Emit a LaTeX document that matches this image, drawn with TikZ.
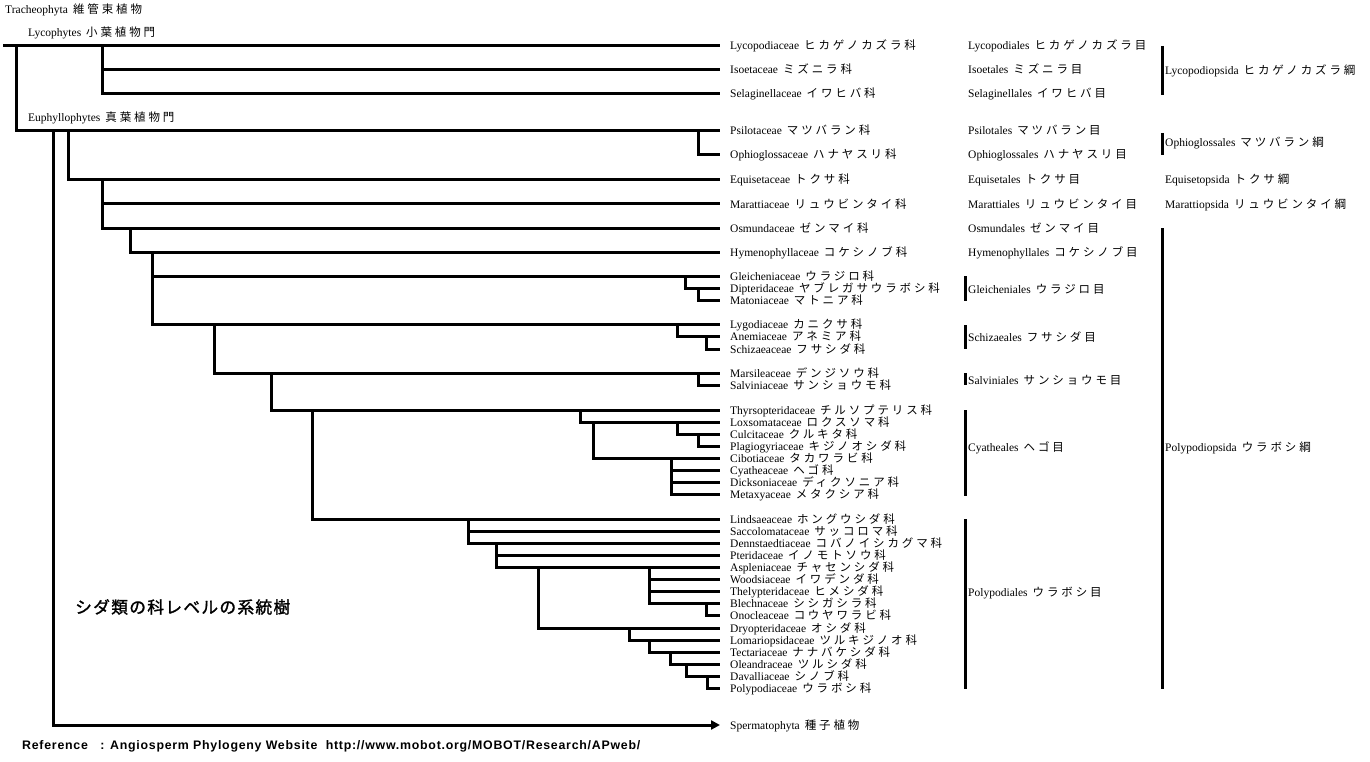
\documentclass[tikz,border=0pt]{standalone}
\usepackage{fontspec}
\usepackage{graphicx}
\setmainfont{Liberation Serif}
\newfontfamily\jp[LetterSpace=25]{Noto Sans CJK JP}
\newfontfamily\jptitle[FakeBold=1.5,LetterSpace=8]{Noto Sans CJK JP}
\newfontfamily\refsans[LetterSpace=6]{Liberation Sans}
\usetikzlibrary{arrows.meta}
\newcommand\lbl[2]{#1\hspace{5pt}{\fontsize{11.5}{12}\selectfont\jp #2}}
\begin{document}
\begin{tikzpicture}[x=1pt,y=-1pt,
  br/.style={line width=3pt, line join=miter},
  bar/.style={line width=3pt},
  txt/.style={inner sep=0pt, text height=9pt, text depth=1pt, font=\fontsize{11.5}{12}\selectfont},
  fam/.style={txt, anchor=west, inner xsep=10pt},
  lab/.style={txt, anchor=west}]
\useasboundingbox (0,0) rectangle (1370,762);
\fill[white] (0,0) rectangle (1370,762);

% headers
\node[lab] (trach) at (5,10) {\lbl{Tracheophyta}{維管束植物}};
\node[lab] (lyco) at (28,33) {\lbl{Lycophytes}{小葉植物門}};
\node[lab] (euph) at (28,118) {\lbl{Euphyllophytes}{真葉植物門}};

% families
\node[fam] (f1) at (720,46) {\lbl{Lycopodiaceae}{ヒカゲノカズラ科}};
\node[fam] (f2) at (720,70) {\lbl{Isoetaceae}{ミズニラ科}};
\node[fam] (f3) at (720,94) {\lbl{Selaginellaceae}{イワヒバ科}};
\node[fam] (f4) at (720,131) {\lbl{Psilotaceae}{マツバラン科}};
\node[fam] (f5) at (720,155) {\lbl{Ophioglossaceae}{ハナヤスリ科}};
\node[fam] (f6) at (720,180) {\lbl{Equisetaceae}{トクサ科}};
\node[fam] (f7) at (720,204) {\lbl{Marattiaceae}{リュウビンタイ科}};
\node[fam] (f8) at (720,228) {\lbl{Osmundaceae}{ゼンマイ科}};
\node[fam] (f9) at (720,252) {\lbl{Hymenophyllaceae}{コケシノブ科}};
\node[fam] (f10) at (720,276) {\lbl{Gleicheniaceae}{ウラジロ科}};
\node[fam] (f11) at (720,288) {\lbl{Dipteridaceae}{ヤブレガサウラボシ科}};
\node[fam] (f12) at (720,300) {\lbl{Matoniaceae}{マトニア科}};
\node[fam] (f13) at (720,324) {\lbl{Lygodiaceae}{カニクサ科}};
\node[fam] (f14) at (720,336) {\lbl{Anemiaceae}{アネミア科}};
\node[fam] (f15) at (720,349) {\lbl{Schizaeaceae}{フサシダ科}};
\node[fam] (f16) at (720,373) {\lbl{Marsileaceae}{デンジソウ科}};
\node[fam] (f17) at (720,385) {\lbl{Salviniaceae}{サンショウモ科}};
\node[fam] (f18) at (720,410) {\lbl{Thyrsopteridaceae}{チルソプテリス科}};
\node[fam] (f19) at (720,422) {\lbl{Loxsomataceae}{ロクスソマ科}};
\node[fam] (f20) at (720,434) {\lbl{Culcitaceae}{クルキタ科}};
\node[fam] (f21) at (720,446) {\lbl{Plagiogyriaceae}{キジノオシダ科}};
\node[fam] (f22) at (720,458) {\lbl{Cibotiaceae}{タカワラビ科}};
\node[fam] (f23) at (720,470) {\lbl{Cyatheaceae}{ヘゴ科}};
\node[fam] (f24) at (720,482) {\lbl{Dicksoniaceae}{ディクソニア科}};
\node[fam] (f25) at (720,494) {\lbl{Metaxyaceae}{メタクシア科}};
\node[fam] (f26) at (720,519) {\lbl{Lindsaeaceae}{ホングウシダ科}};
\node[fam] (f27) at (720,531) {\lbl{Saccolomataceae}{サッコロマ科}};
\node[fam] (f28) at (720,543) {\lbl{Dennstaedtiaceae}{コバノイシカグマ科}};
\node[fam] (f29) at (720,555) {\lbl{Pteridaceae}{イノモトソウ科}};
\node[fam] (f30) at (720,567) {\lbl{Aspleniaceae}{チャセンシダ科}};
\node[fam] (f31) at (720,579) {\lbl{Woodsiaceae}{イワデンダ科}};
\node[fam] (f32) at (720,591) {\lbl{Thelypteridaceae}{ヒメシダ科}};
\node[fam] (f33) at (720,603) {\lbl{Blechnaceae}{シシガシラ科}};
\node[fam] (f34) at (720,615) {\lbl{Onocleaceae}{コウヤワラビ科}};
\node[fam] (f35) at (720,628) {\lbl{Dryopteridaceae}{オシダ科}};
\node[fam] (f36) at (720,640) {\lbl{Lomariopsidaceae}{ツルキジノオ科}};
\node[fam] (f37) at (720,652) {\lbl{Tectariaceae}{ナナバケシダ科}};
\node[fam] (f38) at (720,664) {\lbl{Oleandraceae}{ツルシダ科}};
\node[fam] (f39) at (720,676) {\lbl{Davalliaceae}{シノブ科}};
\node[fam] (f40) at (720,688) {\lbl{Polypodiaceae}{ウラボシ科}};
\node[fam] (sp) at (720,725) {\lbl{Spermatophyta}{種子植物}};

% orders
\node[lab] (o1) at (968,46) {\lbl{Lycopodiales}{ヒカゲノカズラ目}};
\node[lab] (o2) at (968,70) {\lbl{Isoetales}{ミズニラ目}};
\node[lab] (o3) at (968,94) {\lbl{Selaginellales}{イワヒバ目}};
\node[lab] (o4) at (968,131) {\lbl{Psilotales}{マツバラン目}};
\node[lab] (o5) at (968,155) {\lbl{Ophioglossales}{ハナヤスリ目}};
\node[lab] (o6) at (968,180) {\lbl{Equisetales}{トクサ目}};
\node[lab] (o7) at (968,204) {\lbl{Marattiales}{リュウビンタイ目}};
\node[lab] (o8) at (968,228) {\lbl{Osmundales}{ゼンマイ目}};
\node[lab] (o9) at (968,252) {\lbl{Hymenophyllales}{コケシノブ目}};
\node[lab] (o10) at (968,289) {\lbl{Gleicheniales}{ウラジロ目}};
\node[lab] (o11) at (968,337) {\lbl{Schizaeales}{フサシダ目}};
\node[lab] (o12) at (968,380) {\lbl{Salviniales}{サンショウモ目}};
\node[lab] (o13) at (968,447) {\lbl{Cyatheales}{ヘゴ目}};
\node[lab] (o14) at (968,592) {\lbl{Polypodiales}{ウラボシ目}};

% classes
\node[lab] (k1) at (1165,71) {\lbl{Lycopodiopsida}{ヒカゲノカズラ綱}};
\node[lab] (k2) at (1165,143) {\lbl{Ophioglossales}{マツバラン綱}};
\node[lab] (k3) at (1165,180) {\lbl{Equisetopsida}{トクサ綱}};
\node[lab] (k4) at (1165,204) {\lbl{Marattiopsida}{リュウビンタイ綱}};
\node[lab] (k5) at (1165,447) {\lbl{Polypodiopsida}{ウラボシ綱}};

% order / class bars
\draw[bar] (965,276) -- (965,301);
\draw[bar] (965,325) -- (965,349);
\draw[bar] (965,373) -- (965,385);
\draw[bar] (965,410) -- (965,496);
\draw[bar] (965,519) -- (965,689);
\draw[bar] (1162,46) -- (1162,95);
\draw[bar] (1162,133) -- (1162,155);
\draw[bar] (1162,228) -- (1162,689);

% column coordinates
\foreach \x in {3,16,53,68,102,130,152,214,271,312,468,496,538,580,593,629,649,670,671,677,685,686,698,706,707}
  \coordinate (c\x) at (\x,0);

% tree
\draw[br] (c3 |- f1.west) -- (f1.west);
\draw[br] (c16 |- f1.west) |- (f4.west);
\draw[br] (c102 |- f1.west) |- (f3.west);
\draw[br] (c102 |- f2.west) -- (f2.west);
\draw[br] (c698 |- f4.west) |- (f5.west);
\draw[br,-{Triangle[length=9pt,width=9pt]}] (c53 |- f4.west) |- (sp.west);
\draw[br] (c68 |- f4.west) |- (f6.west);
\draw[br] (c102 |- f6.west) |- (f8.west);
\draw[br] (c102 |- f7.west) -- (f7.west);
\draw[br] (c130 |- f8.west) |- (f9.west);
\draw[br] (c152 |- f9.west) |- (f13.west);
\draw[br] (c152 |- f10.west) -- (f10.west);
\draw[br] (c685 |- f10.west) |- (f11.west);
\draw[br] (c698 |- f11.west) |- (f12.west);
\draw[br] (c214 |- f13.west) |- (f16.west);
\draw[br] (c677 |- f13.west) |- (f14.west);
\draw[br] (c706 |- f14.west) |- (f15.west);
\draw[br] (c698 |- f16.west) |- (f17.west);
\draw[br] (c271 |- f16.west) |- (f18.west);
\draw[br] (c312 |- f18.west) |- (f26.west);
\draw[br] (c580 |- f18.west) |- (f19.west);
\draw[br] (c593 |- f19.west) |- (f22.west);
\draw[br] (c677 |- f19.west) |- (f20.west);
\draw[br] (c698 |- f20.west) |- (f21.west);
\draw[br] (c671 |- f22.west) |- (f25.west);
\draw[br] (c671 |- f23.west) -- (f23.west);
\draw[br] (c671 |- f24.west) -- (f24.west);
\draw[br] (c468 |- f26.west) |- (f28.west);
\draw[br] (c468 |- f27.west) -- (f27.west);
\draw[br] (c496 |- f28.west) |- (f30.west);
\draw[br] (c496 |- f29.west) -- (f29.west);
\draw[br] (c538 |- f30.west) |- (f35.west);
\draw[br] (c649 |- f30.west) |- (f33.west);
\draw[br] (c649 |- f31.west) -- (f31.west);
\draw[br] (c649 |- f32.west) -- (f32.west);
\draw[br] (c706 |- f33.west) |- (f34.west);
\draw[br] (c629 |- f35.west) |- (f36.west);
\draw[br] (c649 |- f36.west) |- (f37.west);
\draw[br] (c670 |- f37.west) |- (f38.west);
\draw[br] (c686 |- f38.west) |- (f39.west);
\draw[br] (c707 |- f39.west) |- (f40.west);

% title and footer
\node[anchor=west, inner sep=0pt] (title) at (75,607)
  {\resizebox{215pt}{!}{\fontsize{16}{18}\selectfont\jptitle シダ類の科レベルの系統樹}};
\node[anchor=base west, inner sep=0pt] (ref) at (22,749)
  {\resizebox{618pt}{!}{\fontsize{11}{12}\selectfont\refsans\bfseries Reference\ \ \ : Angiosperm Phylogeny Website\ \ http://www.mobot.org/MOBOT/Research/APweb/}};
\end{tikzpicture}
\end{document}
